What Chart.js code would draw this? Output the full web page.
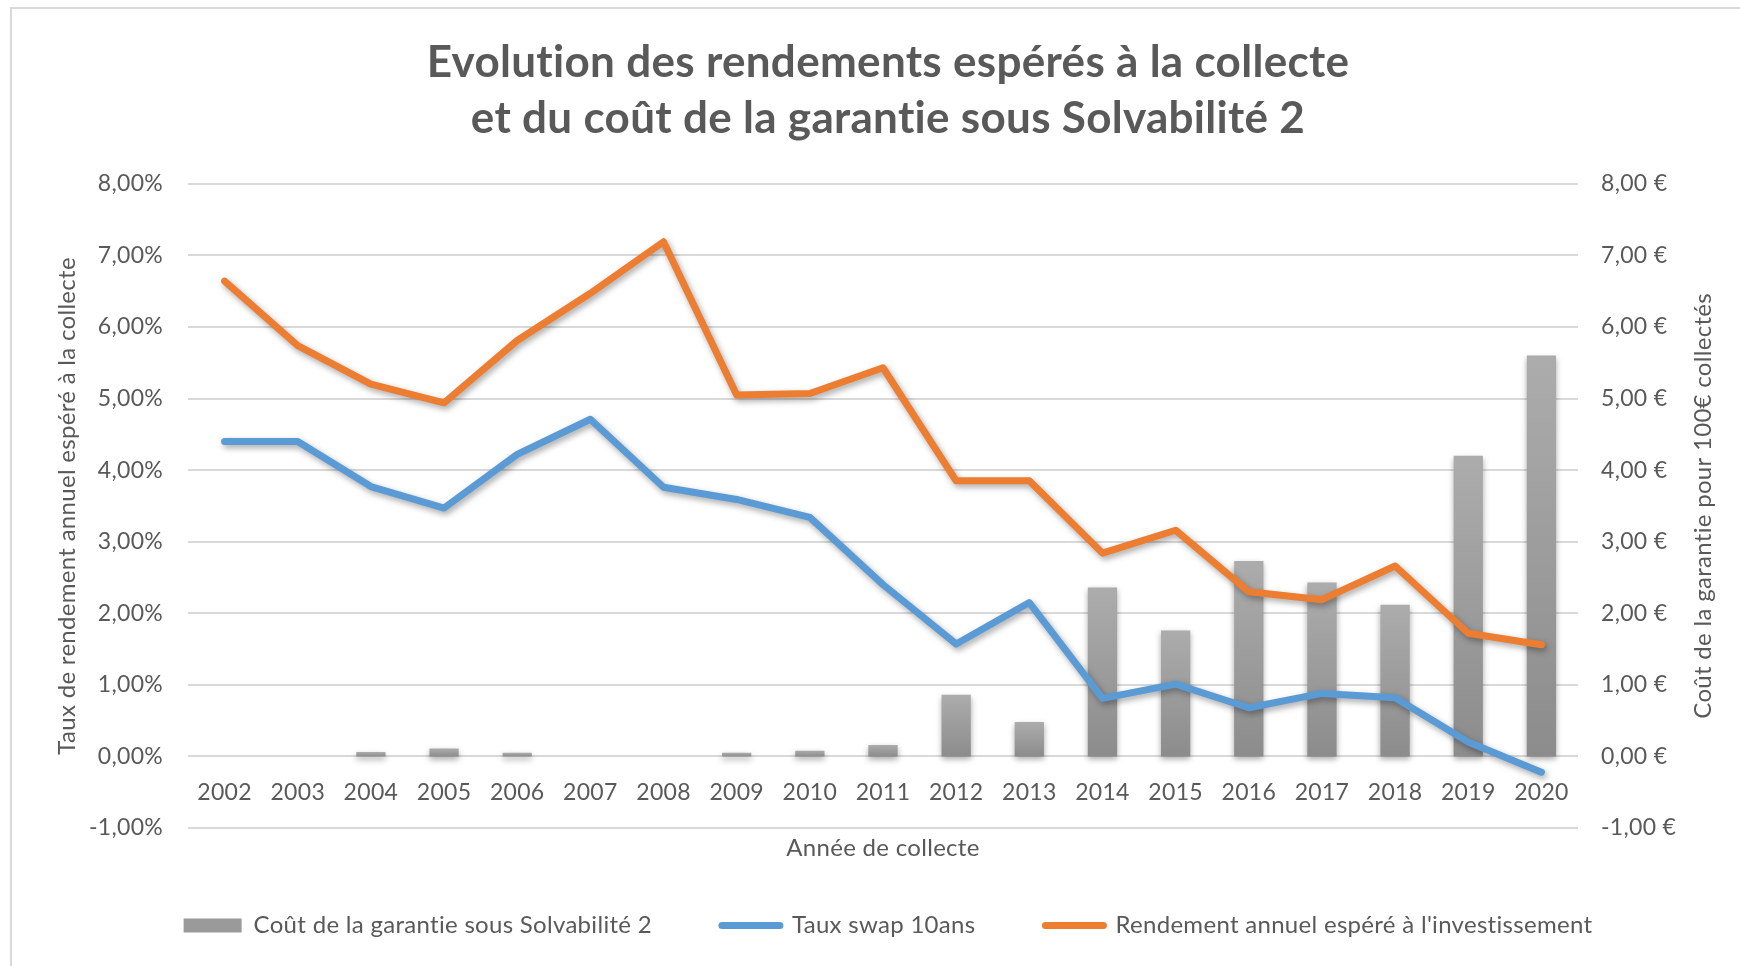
<!DOCTYPE html>
<html>
<head>
<meta charset="utf-8">
<script src="https://cdn.jsdelivr.net/npm/chart.js"></script>
<style>
  html, body { margin: 0; padding: 0; background: #fff; overflow: hidden; }
  #wrap { position: relative; width: 1740px; height: 966px; }
  #frame { position: absolute; left: 10px; top: 7px; width: 1800px; height: 1000px;
           border-left: 2px solid #d9d9d9; border-top: 2px solid #d9d9d9; }
  canvas { position: absolute; left: 0; top: 0; }
</style>
</head>
<body>
<div id="wrap">
  <div id="frame"></div>
  <canvas id="chart" width="1740" height="966"></canvas>
</div>
<script>
// data
const years = ["2002", "2003", "2004", "2005", "2006", "2007", "2008", "2009", "2010", "2011",
               "2012", "2013", "2014", "2015", "2016", "2017", "2018", "2019", "2020"];
const coutGarantie = [0, 0, 0.06, 0.11, 0.05, 0, 0, 0.05, 0.08, 0.16,
                      0.86, 0.48, 2.36, 1.76, 2.73, 2.43, 2.12, 4.20, 5.60];
const tauxSwap = [4.40, 4.40, 3.77, 3.47, 4.22, 4.71, 3.76, 3.59, 3.34, 2.40,
                  1.57, 2.15, 0.81, 1.01, 0.68, 0.88, 0.82, 0.20, -0.22];
const rendement = [6.64, 5.74, 5.20, 4.94, 5.81, 6.47, 7.19, 5.05, 5.07, 5.43,
                   3.85, 3.85, 2.84, 3.16, 2.30, 2.19, 2.66, 1.72, 1.56];
const seriesLabels = ["Coût de la garantie sous Solvabilité 2", "Taux swap 10ans",
                      "Rendement annuel espéré à l'investissement"];
const titleLines = ["Evolution des rendements espérés à la collecte",
                    "et du coût de la garantie sous Solvabilité 2"];
const axisMin = -1, axisMax = 8;

const GREY = "#595959";
const FONT = "Lato";
const fmt = v => v.toFixed(2).replace(".", ",");

// bars get a light-to-dark gradient like the Excel original
function barFill(c) {
  const chart = c.chart;
  if (!chart.chartArea || c.parsed == null) return "#9a9a9a";
  const s = chart.scales.y2;
  const top = s.getPixelForValue(c.parsed.y), base = s.getPixelForValue(0);
  if (Math.abs(base - top) < 1) return "#9a9a9a";
  const g = chart.ctx.createLinearGradient(0, top, 0, base);
  g.addColorStop(0, "#acacac");
  g.addColorStop(1, "#8c8c8c");
  return g;
}

// tiny letter spacing keeps Lato from drawing its "ti" ligature
const noLigatures = {
  id: "noLigatures",
  beforeUpdate(chart) { chart.ctx.letterSpacing = "0.3px"; },
  beforeDraw(chart) { chart.ctx.letterSpacing = "0.3px"; }
};

const shadows = {
  id: "shadows",
  beforeDatasetDraw(chart, args) {
    const ctx = chart.ctx;
    ctx.save();
    ctx.shadowColor = "rgba(0,0,0,0.35)";
    ctx.shadowBlur = 6;
    ctx.shadowOffsetX = args.meta.type === "bar" ? 0 : 2;
    ctx.shadowOffsetY = 3;
  },
  afterDatasetDraw(chart) { chart.ctx.restore(); }
};

// right axis title reads bottom-to-top in the original
const rightTitle = {
  id: "rightTitle",
  afterDraw(chart) {
    const ctx = chart.ctx, a = chart.chartArea;
    ctx.save();
    ctx.translate(a.right + 125, (a.top + a.bottom) / 2);
    ctx.rotate(-Math.PI / 2);
    ctx.font = "24px " + FONT;
    ctx.fillStyle = GREY;
    ctx.textAlign = "center";
    ctx.textBaseline = "middle";
    ctx.fillText("Coût de la garantie pour 100€ collectés", 0, 0);
    ctx.restore();
  }
};

new Chart(document.getElementById("chart"), {
  data: {
    labels: years,
    datasets: [
      { type: "bar", label: seriesLabels[0], data: coutGarantie, yAxisID: "y2", order: 3,
        backgroundColor: barFill, barPercentage: 0.8, categoryPercentage: 0.5 },
      { type: "line", label: seriesLabels[1], data: tauxSwap, yAxisID: "y", order: 2,
        borderColor: "#5b9bd5", borderWidth: 7, pointRadius: 0, tension: 0,
        borderCapStyle: "round", borderJoinStyle: "round" },
      { type: "line", label: seriesLabels[2], data: rendement, yAxisID: "y", order: 1,
        borderColor: "#ed7d31", borderWidth: 7, pointRadius: 0, tension: 0,
        borderCapStyle: "round", borderJoinStyle: "round" }
    ]
  },
  options: {
    responsive: false,
    animation: false,
    layout: { padding: { left: 36, right: 0, top: 0, bottom: 18.5 } },
    plugins: {
      tooltip: { enabled: false },
      title: {
        display: true, text: titleLines, color: GREY,
        font: { family: FONT, size: 44, weight: "bold", lineHeight: 1.27 },
        padding: { top: 35, bottom: 37 }
      },
      legend: {
        position: "bottom",
        title: { display: true, text: "", font: { size: 12 }, padding: { top: 1.1, bottom: 0 } },
        labels: {
          usePointStyle: true, pointStyleWidth: 58, boxHeight: 14, padding: 70,
          color: GREY, font: { family: FONT, size: 24 },
          generateLabels: chart => chart.data.datasets.map((ds, i) => ({
            text: ds.label, datasetIndex: i, hidden: false,
            fillStyle: ds.type === "bar" ? "#9a9a9a" : ds.borderColor,
            strokeStyle: ds.type === "bar" ? "#9a9a9a" : ds.borderColor,
            lineWidth: ds.type === "bar" ? 0 : 7,
            lineCap: "round",
            pointStyle: ds.type === "bar" ? "rect" : "line",
            fontColor: GREY
          }))
        }
      }
    },
    scales: {
      x: {
        position: { y: 0 },
        grid: { display: false, drawTicks: false },
        border: { display: false },
        ticks: { color: GREY, font: { family: FONT, size: 23 }, padding: 22, maxRotation: 0, autoSkip: false },
        title: { display: true, text: "Année de collecte", color: GREY,
                 font: { family: FONT, size: 24 }, padding: { top: 6, bottom: 0 } }
      },
      y: {
        position: "left", min: axisMin, max: axisMax,
        ticks: { stepSize: 1, color: GREY, font: { family: FONT, size: 23 }, padding: 25,
                 callback: v => fmt(v) + "%" },
        grid: { color: "#d9d9d9", lineWidth: 2, drawTicks: false },
        border: { display: false },
        title: { display: true, text: "Taux de rendement annuel espéré à la collecte", color: GREY,
                 font: { family: FONT, size: 24 }, padding: { top: 16.5 } },
        afterFit: s => { s.width = 152; }
      },
      y2: {
        position: "right", min: axisMin, max: axisMax,
        ticks: { stepSize: 1, color: GREY, font: { family: FONT, size: 23 }, padding: 23,
                 callback: v => fmt(v) + "\u00a0€" },
        grid: { display: false, drawTicks: false },
        border: { display: false },
        afterFit: s => { s.width = 162; }
      }
    }
  },
  plugins: [noLigatures, shadows, rightTitle]
});
</script>
</body>
</html>
